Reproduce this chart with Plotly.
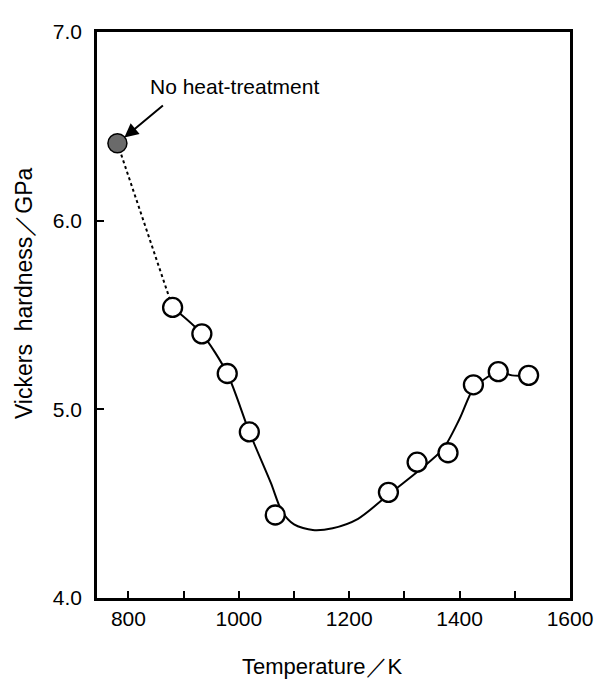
import plotly.graph_objects as go

# Measured hardness (open circles)
temp_k = [880, 933, 979, 1019, 1066, 1271, 1323, 1379, 1425, 1470, 1525]
hardness_gpa = [5.54, 5.40, 5.19, 4.88, 4.44, 4.56, 4.72, 4.77, 5.13, 5.20, 5.18]

# No heat-treatment point
untreated_temp = [780]
untreated_hv = [6.41]

# Hand-drawn trend curve
curve_temp = [880, 933, 979, 1019, 1058, 1078, 1100, 1134, 1170, 1216, 1272,
              1328, 1370, 1400, 1425, 1450, 1470, 1495, 1525]
curve_hv = [5.54, 5.40, 5.19, 4.88, 4.61, 4.46, 4.39, 4.36, 4.37, 4.42, 4.55,
            4.68, 4.79, 4.95, 5.11, 5.17, 5.20, 5.18, 5.18]

FONT = "Liberation Sans, Arial, Helvetica, sans-serif"

# the page body adds an 8px margin, so the figure is drawn 8px smaller
OFF = 8
W, H = 605 - OFF, 679 - OFF
L, R, T, B = 97 - OFF, 27, 23 - OFF, 81
pw, ph = W - L - R, H - T - B


def px_to_paper(xp, yp):
    return (xp - OFF - L) / pw, 1 - (yp - OFF - T) / ph


fig = go.Figure()

# dotted link from untreated point to first measured point
fig.add_trace(go.Scatter(
    x=[untreated_temp[0], temp_k[0]], y=[untreated_hv[0], hardness_gpa[0]],
    mode="lines", line=dict(color="black", width=2, dash="3px,3px"),
    showlegend=False, hoverinfo="skip"))

fig.add_trace(go.Scatter(
    x=curve_temp, y=curve_hv, mode="lines",
    line=dict(color="black", width=2, shape="spline", smoothing=0.8),
    showlegend=False, hoverinfo="skip"))

fig.add_trace(go.Scatter(
    x=temp_k, y=hardness_gpa, mode="markers",
    marker=dict(symbol="circle", size=19, color="white",
                line=dict(color="black", width=2.3)),
    showlegend=False))

fig.add_trace(go.Scatter(
    x=untreated_temp, y=untreated_hv, mode="markers",
    marker=dict(symbol="circle", size=19, color="#6a6a6a",
                line=dict(color="black", width=1.5)),
    showlegend=False))

fig.add_annotation(x=untreated_temp[0], y=untreated_hv[0], xref="x", yref="y",
                   text="", showarrow=True, arrowhead=2, arrowsize=1.4,
                   arrowwidth=2, arrowcolor="black", ax=47, ay=-39, standoff=9)
fig.add_annotation(x=993, y=6.713, xref="x", yref="y",
                   text="No heat-treatment", showarrow=False,
                   xanchor="center", yanchor="middle",
                   font=dict(size=21, family=FONT, color="black"))

xt = px_to_paper(326, 668)
fig.add_annotation(x=xt[0], y=xt[1], xref="paper", yref="paper",
                   text="Temperature／K", showarrow=False,
                   xanchor="center", yanchor="middle",
                   font=dict(size=22, family=FONT, color="black"))
yt = px_to_paper(23, 288)
fig.add_annotation(x=yt[0], y=yt[1], xref="paper", yref="paper",
                   text="Vickers&nbsp; hardness／GPa", textangle=-90,
                   showarrow=False, xanchor="center", yanchor="middle",
                   font=dict(size=23, family=FONT, color="black"))

fig.update_layout(
    width=W, height=H,
    margin=dict(l=L, r=R, t=T, b=B),
    paper_bgcolor="white", plot_bgcolor="white",
    font=dict(family=FONT, size=21, color="black"),
    showlegend=False,
    xaxis=dict(range=[743, 1600], tick0=800, dtick=200,
               ticks="inside", ticklen=7, tickwidth=1.5, tickcolor="black",
               minor=dict(dtick=100, tick0=800, ticks="inside", ticklen=7,
                          tickwidth=1.5, tickcolor="black", showgrid=False),
               showgrid=False, zeroline=False,
               showline=True, mirror=True, linecolor="black", linewidth=2.5,
               ticklabelstandoff=0),
    yaxis=dict(range=[4, 7], dtick=1, tickformat=".1f",
               ticks="inside", ticklen=7, tickwidth=1.5, tickcolor="black",
               showgrid=False, zeroline=False,
               showline=True, mirror=True, linecolor="black", linewidth=2.5,
               ticklabelstandoff=8),
)

fig.write_html("out.html")
